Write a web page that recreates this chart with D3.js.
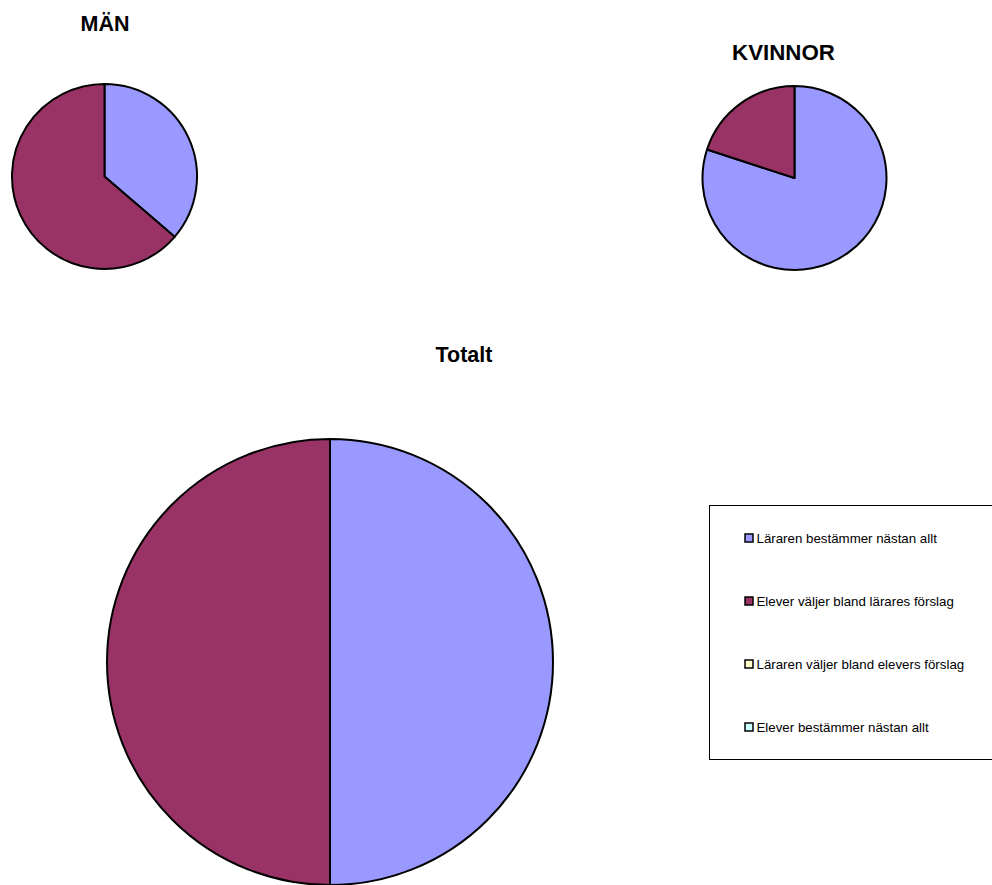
<!DOCTYPE html>
<html><head><meta charset="utf-8">
<script src="https://cdn.jsdelivr.net/npm/d3@7"></script>
<style>body{margin:0;background:#fff;}svg{display:block;}</style>
</head><body>
<script>
const categories = ["Läraren bestämmer nästan allt","Elever väljer bland lärares förslag","Läraren väljer bland elevers förslag","Elever bestämmer nästan allt"];
const colors = ["#9999FF","#993366","#FFFFCC","#CCFFFF"];
const manValues = [36.3, 63.7, 0, 0];
const kvinnorValues = [80, 20, 0, 0];
const totaltValues = [50, 50, 0, 0];
const titles = ["MÄN","KVINNOR","Totalt"];

const W = 992, H = 885;
const svg = d3.select("body").append("svg").attr("width", W).attr("height", H);

const pies = [
  {title: titles[0], values: manValues, cx: 104.5, cy: 176.5, r: 92.5, tx: 105, ty: 31, fs: 21.5},
  {title: titles[1], values: kvinnorValues, cx: 794.5, cy: 178, r: 92, tx: 783.5, ty: 60, fs: 22.3},
  {title: titles[2], values: totaltValues, cx: 330, cy: 662, r: 223, tx: 464, ty: 362, fs: 21.5}
];

const pie = d3.pie().sort(null).value(d => d.v);
pies.forEach(p => {
  svg.append("text").attr("x", p.tx).attr("y", p.ty).attr("text-anchor","middle")
    .attr("font-family","Liberation Sans, Arial, sans-serif").attr("font-weight","bold")
    .attr("font-size", p.fs).attr("fill","#000").text(p.title);
  const g = svg.append("g").attr("transform", `translate(${p.cx},${p.cy})`);
  const arc = d3.arc().innerRadius(0).outerRadius(p.r);
  const data = pie(p.values.map((v,i)=>({v, i}))).filter(d => d.data.v > 0);
  g.selectAll("path").data(data).join("path")
    .attr("d", arc).attr("fill", d => colors[d.data.i])
    .attr("stroke","#000").attr("stroke-width",2).attr("stroke-linejoin","round");
});

// legend
const lg = svg.append("g");
lg.append("rect").attr("x",709.5).attr("y",505.5).attr("width",320).attr("height",254)
  .attr("fill","#fff").attr("stroke","#000").attr("stroke-width",1);
const ly = d3.scalePoint().domain(categories).range([538, 727]);
categories.forEach((c,i) => {
  const y = ly(c);
  lg.append("rect").attr("x",745).attr("y",y-4).attr("width",8).attr("height",8)
    .attr("fill",colors[i]).attr("stroke","#000").attr("stroke-width",1.5);
  lg.append("text").attr("x",756.5).attr("y",y+5)
    .attr("font-family","Liberation Sans, Arial, sans-serif").attr("font-size",13.3)
    .attr("fill","#000").text(c);
});
</script>
</body></html>
